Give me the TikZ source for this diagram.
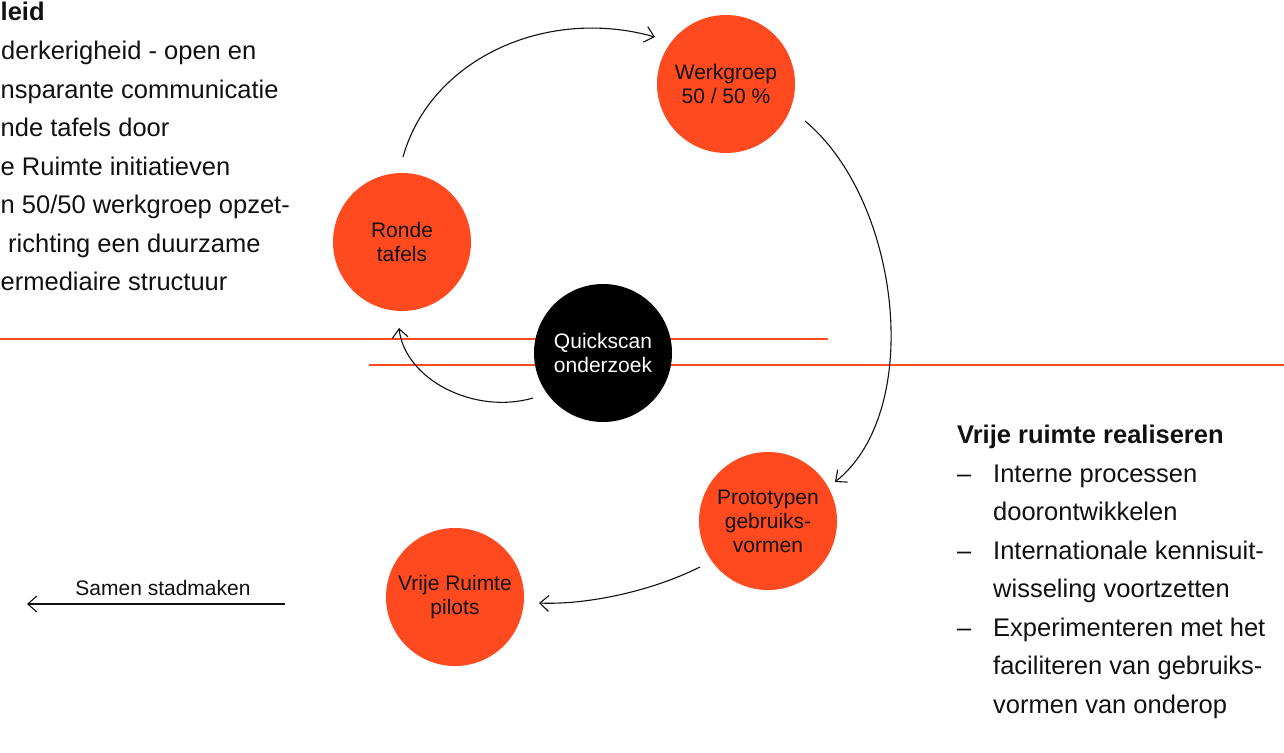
\documentclass[tikz,border=0pt]{standalone}
\usepackage{fontspec}
\setmainfont{Liberation Sans}
\usetikzlibrary{arrows.meta}
\definecolor{accent}{HTML}{FF4A1F}
\definecolor{ink}{HTML}{111111}
\begin{document}
\begin{tikzpicture}[x=1pt,y=-1pt,
  bubble/.style={circle,fill=accent,minimum size=138pt,inner sep=0pt,align=center,
    text=ink,font=\fontsize{21}{24}\selectfont},
  darkbubble/.style={bubble,fill=black,text=white},
  rule/.style={draw=accent,line width=1.3pt},
  flow/.style={draw=ink,line width=1.1pt,-{Straight Barb[length=9pt,width=16pt,line width=1.1pt]}},
  body/.style={inner sep=0pt,text=ink,font=\fontsize{25.5}{38.5}\selectfont},
  head/.style={body,font=\fontsize{25.5}{38.5}\selectfont\bfseries},
  small/.style={inner sep=0pt,text=ink,font=\fontsize{21}{24}\selectfont}]
\useasboundingbox (0,0) rectangle (1284,752);
\fill[white] (0,0) rectangle (1284,752);

% horizontal rules
\coordinate (r1a) at (0,339);
\coordinate (r1b) at (828,339);
\coordinate (r2a) at (369,365);
\coordinate (r2b) at (1284,365);
\draw[rule] (r1a) -- (r1b);
\draw[rule] (r2a) -- (r2b);

% circles
\node[bubble] (werk) at (726,84) {Werkgroep\\50 / 50 \%};
\node[bubble] (ronde) at (402,242) {Ronde\\tafels};
\node[darkbubble] (quick) at (603,353) {Quickscan\\onderzoek};
\node[bubble] (proto) at (768,521) {Prototypen\\gebruiks-\\vormen};
\node[bubble] (pilot) at (455,597) {Vrije Ruimte\\pilots};

% connector end points
\coordinate (a1s) at (403,157);
\coordinate (a1e) at (655,37);
\coordinate (a2s) at (805,121);
\coordinate (a2e) at (835,482);
\coordinate (a3s) at (533,398);
\coordinate (a3e) at (399,328);
\coordinate (a4s) at (700,567);
\coordinate (a4e) at (539,603);
\coordinate (a5s) at (285,604);
\coordinate (a5e) at (27,604);

\draw[flow] (a1s) .. controls (430,60) and (545,6) .. (a1e);
\draw[flow] (a2s) .. controls (900,200) and (925,410) .. (a2e);
\draw[flow] (a3s) .. controls (475,415) and (405,380) .. (a3e);
\draw[flow] (a4s) .. controls (650,592) and (585,605) .. (a4e);
\draw[flow] (a5s) -- (a5e);
\node[small,anchor=base] (samen) at (163,595) {Samen stadmaken};

% left text block (continues beyond the page edge in the source)
\node[head,anchor=base west] (l0) at (0.5,21) {leid};
\node[body,anchor=base west] (l1) at (1,59.5) {derkerigheid - open en};
\node[body,anchor=base west] (l2) at (0.5,98) {nsparante communicatie};
\node[body,anchor=base west] (l3) at (0.5,136.5) {nde tafels door};
\node[body,anchor=base west] (l4) at (0.5,175) {e Ruimte initiatieven};
\node[body,anchor=base west] (l5) at (0.5,213.5) {n 50/50 werkgroep opzet-};
\node[body,anchor=base west] (l6) at (8,252) {richting een duurzame};
\node[body,anchor=base west] (l7) at (0.5,290.5) {ermediaire structuur};

% right text block
\node[head,anchor=base west] (h) at (957,443.5) {Vrije ruimte realiseren};
\node[body,anchor=base west] (d1) at (957,482) {–};
\node[body,anchor=base west] (t1) at (993,482) {Interne processen};
\node[body,anchor=base west] (t1b) at (993,520.5) {doorontwikkelen};
\node[body,anchor=base west] (d2) at (957,559) {–};
\node[body,anchor=base west] (t2) at (993,559) {Internationale kennisuit-};
\node[body,anchor=base west] (t2b) at (993,597.5) {wisseling voortzetten};
\node[body,anchor=base west] (d3) at (957,636) {–};
\node[body,anchor=base west] (t3) at (993,636) {Experimenteren met het};
\node[body,anchor=base west] (t3b) at (993,674.5) {faciliteren van gebruiks-};
\node[body,anchor=base west] (t3c) at (993,713) {vormen van onderop};
\end{tikzpicture}
\end{document}
